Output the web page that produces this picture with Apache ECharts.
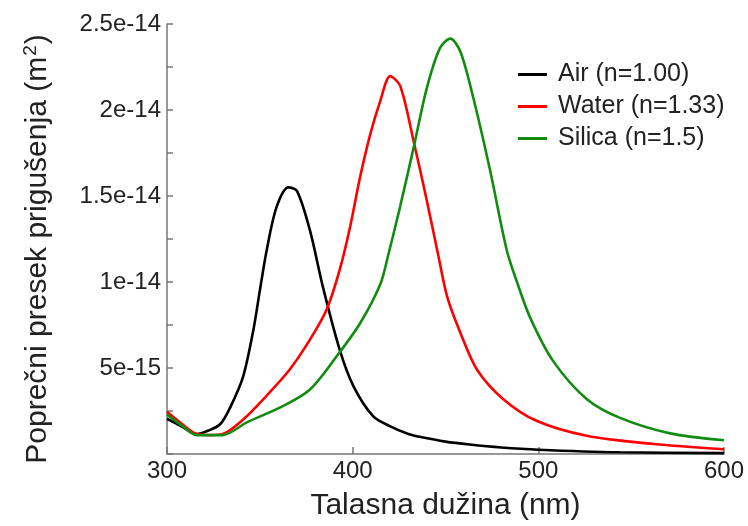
<!DOCTYPE html>
<html><head><meta charset="utf-8">
<script src="https://cdn.jsdelivr.net/npm/echarts@6/dist/echarts.min.js"></script>
<style>html,body{margin:0;padding:0;background:#fff}#c{width:748px;height:526px}</style>
</head><body><div id="c"></div>
<script>
// values in units of 1e-15 m^2
const airX   = [300,308,316,322,328.6,334,341,346.5,350,353.7,359,365.4,370,377,384,393,400.4,411,420,430,436,450,463,480,500,544,600];
const airY   = [2.05,1.6,1.16,1.35,1.73,2.7,4.5,7.2,9.5,11.85,14.35,15.5,15.3,13.0,9.7,6.07,3.95,2.2,1.62,1.16,1.0,0.72,0.55,0.38,0.25,0.1,0.05];
const waterX = [300,308,316,323,330,341,353.7,366,377,386,393,398.6,404,409.5,414.8,420.2,425.6,432.8,440,446,451,458,467,481,499,526,562,600];
const waterY = [2.45,1.75,1.16,1.1,1.16,2.0,3.4,4.9,6.65,8.4,10.7,13.2,16.1,18.6,20.5,21.97,21.4,18.2,14.7,11.6,9.1,7.05,4.9,3.2,1.93,1.06,0.58,0.28];
const silicaX = [300,308,316,330,343,362.7,377,391.5,404,415,419,425.6,432.8,440,447,452.6,458,465,474,483,488.5,495.7,508,526,544,571,600];
const silicaY = [2.3,1.65,1.1,1.1,1.84,2.8,3.75,5.7,7.6,9.9,11.5,14.4,17.8,21.3,23.6,24.15,23.4,20.7,16.5,11.85,10,7.9,5.4,3.2,2.1,1.2,0.8];
const seriesNames = ['Air (n=1.00)','Water (n=1.33)','Silica (n=1.5)'];
const yTickValues = [5,10,15,20,25];
const yTickLabels = ['5e-15','1e-14','1.5e-14','2e-14','2.5e-14'];
const xTicks = [300,400,500,600];

function pairs(xs, ys){ return xs.map((x,i)=>[x, ys[i]]); }
const colors = ['#000000','#ff0000','#118c11'];
const font = '"Liberation Sans", Arial, sans-serif';
const chart = echarts.init(document.getElementById('c'), null, {renderer:'canvas'});
chart.setOption({
  animation:false,
  backgroundColor:'#fff',
  grid:{left:167,right:24,top:24,bottom:71,containLabel:false},
  legend:{
    orient:'vertical', left:513, top:57, itemWidth:29, itemHeight:3, itemGap:7,
    icon:'rect',
    textStyle:{fontFamily:font,fontSize:25,color:'#222',padding:[0,0,0,6]},
    data:seriesNames
  },
  xAxis:{
    type:'value', min:300, max:600, interval:100,
    name:'Talasna dužina (nm)', nameLocation:'middle', nameGap:37,
    nameTextStyle:{fontFamily:font,fontSize:30,color:'#222'},
    axisLine:{lineStyle:{color:'#777',width:1.5}},
    axisTick:{inside:true,length:7,lineStyle:{color:'#777',width:1.5}},
    axisLabel:{fontFamily:font,fontSize:24,color:'#222',margin:5,
      formatter:v=>xTicks.includes(v)?String(v):''},
    splitLine:{show:false}
  },
  yAxis:{
    type:'value', min:0, max:25, interval:5,
    name:'Poprečni presek prigušenja (m{sup|2})', nameLocation:'middle', nameGap:113,
    nameTextStyle:{fontFamily:font,fontSize:30,color:'#222',padding:[0,20,0,0],
      rich:{sup:{fontFamily:font,fontSize:19,color:'#222',verticalAlign:'top',padding:[0,1,14,1]}}},
    axisLine:{show:true,lineStyle:{color:'#777',width:1.5}},
    axisTick:{inside:true,length:6,lineStyle:{color:'#777',width:1.5}},
    minorTick:{show:true,splitNumber:2,length:6,lineStyle:{color:'#777',width:1.5}},
    axisLabel:{fontFamily:font,fontSize:24,color:'#222',margin:6,showMinLabel:false,
      formatter:v=>{const i=yTickValues.indexOf(v);return i>=0?yTickLabels[i]:'';}},
    splitLine:{show:false}
  },
  series:[
    {name:seriesNames[0],type:'line',data:pairs(airX,airY),smooth:0.3,showSymbol:false,symbol:'none',lineStyle:{color:colors[0],width:2.6},itemStyle:{color:colors[0]}},
    {name:seriesNames[1],type:'line',data:pairs(waterX,waterY),smooth:0.3,showSymbol:false,symbol:'none',lineStyle:{color:colors[1],width:2.6},itemStyle:{color:colors[1]}},
    {name:seriesNames[2],type:'line',data:pairs(silicaX,silicaY),smooth:0.3,showSymbol:false,symbol:'none',lineStyle:{color:colors[2],width:2.6},itemStyle:{color:colors[2]}}
  ]
});
</script></body></html>
